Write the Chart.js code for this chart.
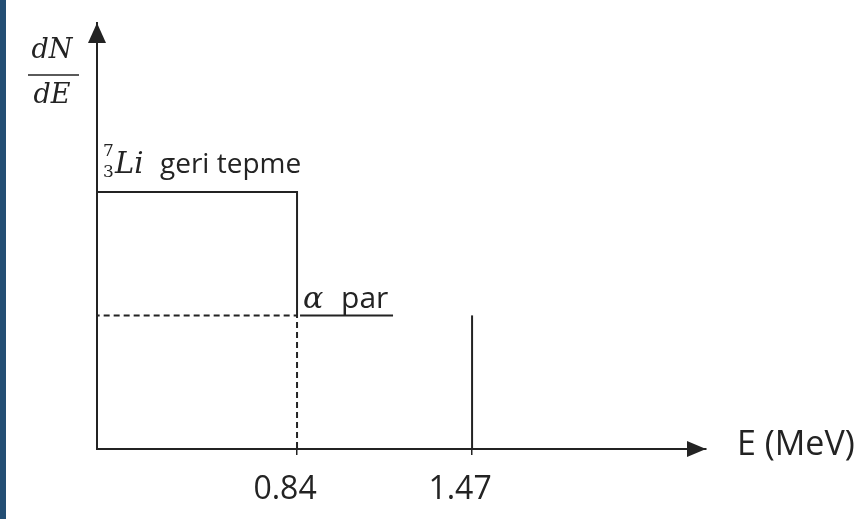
<!DOCTYPE html>
<html>
<head>
<meta charset="utf-8">
<script src="https://cdn.jsdelivr.net/npm/chart.js@4.4.1/dist/chart.umd.min.js"></script>
<style>
  html, body { margin: 0; padding: 0; background: #fff; }
  #wrap { position: relative; width: 866px; height: 519px; }
  #strip { position: absolute; left: 0; top: 0; width: 6px; height: 519px; background: #234e74; }
</style>
</head>
<body>
<div id="wrap">
  <canvas id="graph"></canvas>
  <div id="strip"></div>
</div>
<script>
// energies in MeV, dN/dE in arbitrary units (sketch, not to scale)
const liRecoilX = [0, 0.84, 0.84]
const liRecoilY = [1.0, 1.0, 0.52]
const alphaDashX = [0, 0.84, 0.84]
const alphaDashY = [0.52, 0.52, 0]
const alphaPeakX = [1.47, 1.47]
const alphaPeakY = [0, 0.52]
const xTicks = [0.84, 1.47]
const xTickLabels = ['0.84', '1.47']

const ink = '#232323'
const sans = '"Open Sans", sans-serif'
const serifIt = 'italic 27px "DejaVu Serif", serif'

function pts(xs, ys) {
  return xs.map((x, i) => ({ x: x, y: ys[i] }))
}

const lineSet = (label, xs, ys, dash) => ({
  label: label,
  data: pts(xs, ys),
  showLine: true,
  borderColor: ink,
  borderWidth: 2,
  borderDash: dash || [],
  pointRadius: 0,
  fill: false
})

// arrows, labels and the axis titles
const decorations = {
  id: 'decorations',
  afterDraw(chart) {
    const ctx = chart.ctx
    const xs = chart.scales.x
    const ys = chart.scales.y
    const a = chart.chartArea
    ctx.save()
    ctx.fillStyle = ink
    ctx.strokeStyle = ink

    // arrow heads
    ctx.beginPath()
    ctx.moveTo(a.right - 19, a.bottom - 8)
    ctx.lineTo(a.right, a.bottom)
    ctx.lineTo(a.right - 19, a.bottom + 8)
    ctx.closePath()
    ctx.fill()
    ctx.beginPath()
    ctx.moveTo(a.left - 9, a.top + 20)
    ctx.lineTo(a.left, a.top)
    ctx.lineTo(a.left + 9, a.top + 20)
    ctx.closePath()
    ctx.fill()

    // dN/dE
    ctx.textAlign = 'center'
    ctx.textBaseline = 'alphabetic'
    ctx.font = serifIt
    ctx.fillText('dN', a.left - 45, a.top + 35)
    ctx.fillText('dE', a.left - 45, a.top + 80)
    ctx.lineWidth = 1.5
    ctx.beginPath()
    ctx.moveTo(a.left - 69, a.top + 52)
    ctx.lineTo(a.left - 18, a.top + 52)
    ctx.stroke()

    // E (MeV)
    ctx.textAlign = 'left'
    ctx.font = '34px ' + sans
    ctx.fillText('E (MeV)', a.right + 31, a.bottom + 6)

    // 7/3 Li geri tepme
    const lx = a.left + 6
    const ly = ys.getPixelForValue(liRecoilY[0]) - 19
    ctx.font = '17px "DejaVu Serif", serif'
    ctx.fillText('7', lx, ly - 17)
    ctx.fillText('3', lx, ly + 4)
    ctx.font = 'italic 29px "DejaVu Serif", serif'
    ctx.fillText('Li', lx + 12, ly)
    ctx.font = '28px ' + sans
    ctx.fillText('geri tepme', lx + 57, ly)

    // alpha par (underlined)
    const px = xs.getPixelForValue(alphaDashX[1]) + 6
    const py = ys.getPixelForValue(alphaDashY[1]) - 7
    ctx.font = 'italic 30px "DejaVu Serif", serif'
    ctx.fillText('\u03b1', px, py)
    ctx.font = '30px ' + sans
    ctx.fillText('par', px + 38, py)
    ctx.lineWidth = 2
    ctx.beginPath()
    ctx.moveTo(px - 3, py + 7)
    ctx.lineTo(px + 90, py + 7)
    ctx.stroke()
    ctx.restore()
  }
}

const data = {
  datasets: [
    lineSet('7Li geri tepme', liRecoilX, liRecoilY),
    lineSet('alpha par', alphaDashX, alphaDashY, [6, 4]),
    lineSet('alpha 1.47', alphaPeakX, alphaPeakY)
  ]
}

const config = {
  type: 'scatter',
  data: data,
  plugins: [decorations],
  options: {
    responsive: false,
    animation: false,
    layout: { padding: { left: 97, top: 23, right: 160, bottom: 0 } },
    plugins: { legend: { display: false }, tooltip: { enabled: false } },
    scales: {
      x: {
        type: 'linear',
        min: 0.12,
        max: 2.312,
        afterBuildTicks: s => { s.ticks = xTicks.map(v => ({ value: v })) },
        afterFit: s => { s.height = 70 },
        grid: { display: true, drawOnChartArea: false, drawTicks: true, tickLength: 6, color: ink, lineWidth: 1.5 },
        border: { display: true, color: ink, width: 2 },
        ticks: {
          autoSkip: false,
          maxRotation: 0,
          padding: 16,
          labelOffset: -12,
          color: ink,
          font: { family: sans, size: 32 },
          callback: (v, i) => xTickLabels[i]
        }
      },
      y: {
        type: 'linear',
        min: 0,
        max: 1.658,
        afterFit: s => { s.width = 0 },
        grid: { display: false },
        border: { display: true, color: ink, width: 2 },
        ticks: { display: false }
      }
    }
  }
}

const canvas = document.querySelector('#graph')
canvas.width = 866
canvas.height = 519
let chart = new Chart(canvas, config)
</script>
</body>
</html>
